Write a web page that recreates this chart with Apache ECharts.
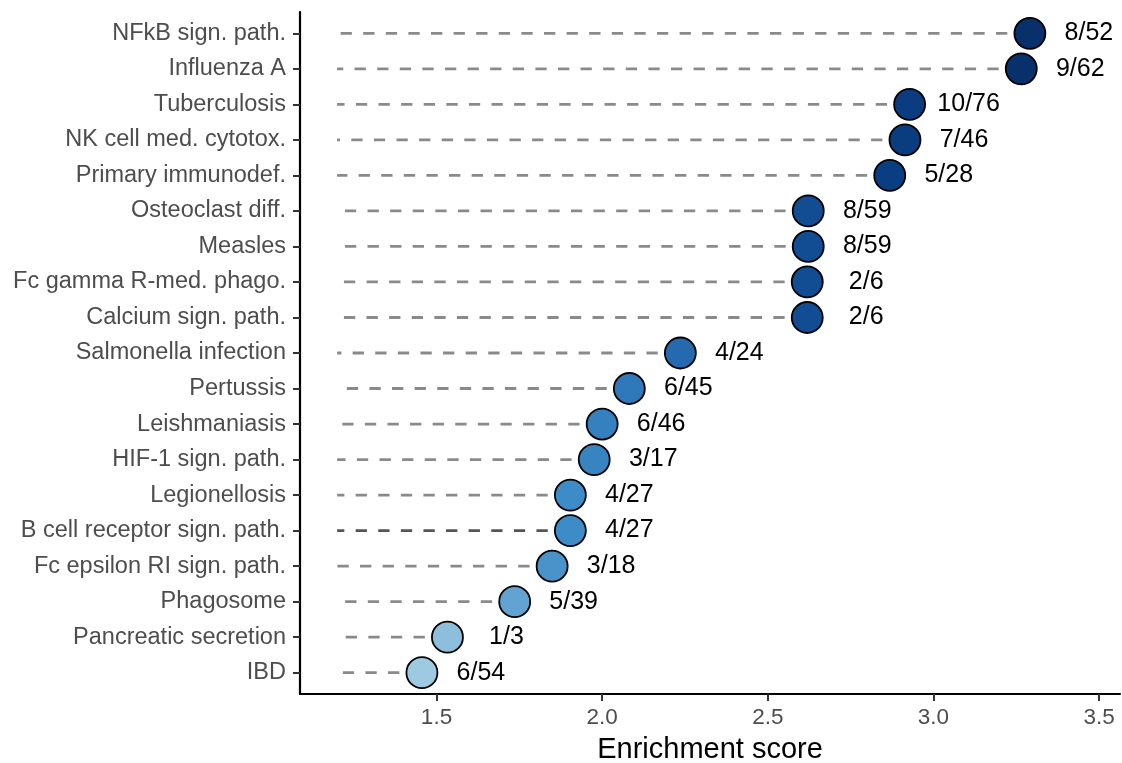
<!DOCTYPE html>
<html>
<head>
<meta charset="utf-8">
<script src="https://cdn.jsdelivr.net/npm/echarts@6/dist/echarts.min.js"></script>
<style>
html,body{margin:0;padding:0;background:#fff;}
#chart{width:1122px;height:763px;}
</style>
</head>
<body>
<div id="chart"></div>
<script>
// ---- data ----
const categories = [
  'NFkB sign. path.', 'Influenza A', 'Tuberculosis', 'NK cell med. cytotox.',
  'Primary immunodef.', 'Osteoclast diff.', 'Measles', 'Fc gamma R-med. phago.',
  'Calcium sign. path.', 'Salmonella infection', 'Pertussis', 'Leishmaniasis',
  'HIF-1 sign. path.', 'Legionellosis', 'B cell receptor sign. path.',
  'Fc epsilon RI sign. path.', 'Phagosome', 'Pancreatic secretion', 'IBD'
];
const scores = [
  3.291, 3.265, 2.928, 2.914, 2.868, 2.622, 2.622, 2.619, 2.619,
  2.236, 2.082, 2.000, 1.976, 1.904, 1.904, 1.849, 1.736, 1.533, 1.456
];
const ratios = [
  '8/52', '9/62', '10/76', '7/46', '5/28', '8/59', '8/59', '2/6', '2/6',
  '4/24', '6/45', '6/46', '3/17', '4/27', '4/27', '3/18', '5/39', '1/3', '6/54'
];
const xTicks = [1.5, 2.0, 2.5, 3.0, 3.5];
const segmentStart = 1.2;
const xMin = 1.088, xMax = 3.563;

// ---- chart ----
const FONT = '"Liberation Sans", Arial, Helvetica, sans-serif';
const rowIdx = categories.map((_, i) => i);
const darkerRows = {'B cell receptor sign. path.': '#555555'};

const chart = echarts.init(document.getElementById('chart'), null, {renderer: 'canvas'});
chart.setOption({
  animation: false,
  backgroundColor: '#ffffff',
  grid: {left: 300, right: 2, top: 12, bottom: 69, containLabel: false, outerBoundsMode: 'none'},
  xAxis: {
    type: 'value', min: xMin, max: xMax,
    name: 'Enrichment score', nameLocation: 'middle', nameGap: 41,
    nameTextStyle: {fontFamily: FONT, fontSize: 29, color: '#000'},
    axisLine: {show: true, onZero: false, lineStyle: {color: '#000', width: 2.2}},
    axisTick: {show: true, length: 7, customValues: xTicks, lineStyle: {color: '#333', width: 2}},
    axisLabel: {customValues: xTicks, formatter: v => Number(v).toFixed(1),
      fontFamily: FONT, fontSize: 22.5, color: '#4d4d4d', margin: 12},
    splitLine: {show: false}
  },
  yAxis: {
    type: 'value', min: -0.6, max: categories.length - 0.4, inverse: true,
    axisLine: {show: true, onZero: false, lineStyle: {color: '#000', width: 2.2}},
    axisTick: {show: true, length: 7, customValues: rowIdx, lineStyle: {color: '#333', width: 2}},
    axisLabel: {customValues: rowIdx, formatter: v => categories[Math.round(v)] || '',
      fontFamily: FONT, fontSize: 23.5, color: '#4d4d4d', margin: 14},
    splitLine: {show: false}
  },
  visualMap: {
    type: 'continuous', show: false, seriesIndex: 1, dimension: 0,
    min: Math.min(...scores), max: Math.max(...scores),
    inRange: {color: ['#9ecae1', '#3b8ac6', '#1b5ca4', '#0a3f84', '#08306b']}
  },
  series: [
    {
      type: 'custom',
      z: 2,
      data: scores.map((s, i) => [s, i]),
      renderItem: function (params, api) {
        const i = api.value(1);
        const p1 = api.coord([api.value(0), i]);
        const p0 = api.coord([segmentStart, i]);
        return {
          type: 'line',
          shape: {x1: p1[0], y1: p1[1], x2: p0[0], y2: p0[1]},
          style: {stroke: darkerRows[categories[i]] || '#8a8a8a', lineWidth: 2.8,
            lineDash: [11.3, 11.3], lineCap: 'butt'}
        };
      }
    },
    {
      type: 'scatter',
      z: 5,
      symbol: 'circle',
      symbolSize: 31,
      data: scores.map((s, i) => [s, i, ratios[i]]),
      itemStyle: {borderColor: '#000', borderWidth: 1.8, opacity: 1},
      label: {
        show: true, position: 'inside', offset: [59, 0], align: 'center',
        formatter: p => p.data[2],
        fontFamily: FONT, fontSize: 25, color: '#000'
      },
      emphasis: {disabled: true}
    }
  ]
});
</script>
</body>
</html>
